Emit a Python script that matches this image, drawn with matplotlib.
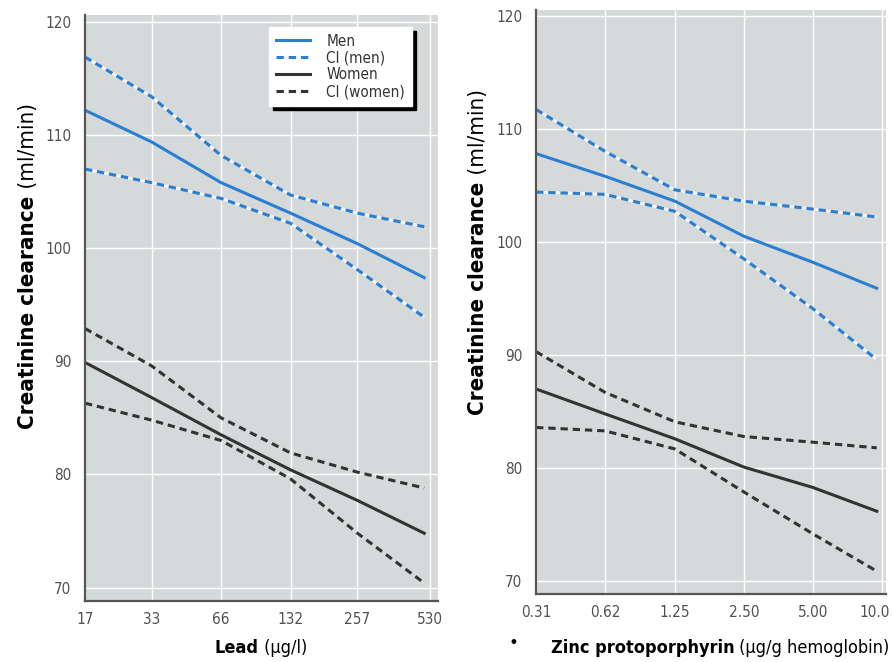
import matplotlib
matplotlib.use("Agg")
import matplotlib.pyplot as plt
import matplotlib.transforms as mtrans
from matplotlib import font_manager as fm

# creatinine clearance vs lead / zinc protoporphyrin, men and women with CI

lead = [17, 33, 66, 132, 257, 500]
lead_ticks = [17, 33, 66, 132, 257, 530]
lead_men = [112.2, 109.4, 105.8, 103.1, 100.4, 97.4]
lead_men_hi = [116.9, 113.4, 108.2, 104.7, 103.1, 101.9]
lead_men_lo = [107.0, 105.8, 104.4, 102.2, 98.1, 93.9]
lead_women = [89.9, 86.8, 83.5, 80.4, 77.7, 74.8]
lead_women_hi = [92.9, 89.6, 85.0, 81.9, 80.2, 78.8]
lead_women_lo = [86.3, 84.8, 83.0, 79.6, 74.8, 70.4]

zpp = [0.31, 0.62, 1.25, 2.50, 5.00, 9.5]
zpp_ticks = [0.31, 0.62, 1.25, 2.50, 5.00, 10.0]
zpp_ticklabels = ["0.31", "0.62", "1.25", "2.50", "5.00", "10.0"]
zpp_men = [107.8, 105.8, 103.6, 100.5, 98.2, 95.9]
zpp_men_hi = [111.7, 108.0, 104.6, 103.6, 102.9, 102.2]
zpp_men_lo = [104.4, 104.2, 102.7, 98.5, 94.1, 89.6]
zpp_women = [87.0, 84.8, 82.6, 80.1, 78.3, 76.2]
zpp_women_hi = [90.3, 86.7, 84.1, 82.8, 82.3, 81.8]
zpp_women_lo = [83.6, 83.3, 81.7, 77.9, 74.2, 70.9]

yticks = [70, 80, 90, 100, 110, 120]

BLUE = "#2b7fd2"
DARK = "#333333"
BG = "#d5d9d9"


def find_font(bold):
    # look for a narrow / condensed face, fall back to DejaVu Sans
    prefs = [("Liberation Sans Narrow", None), ("DejaVu Sans", "condensed")]
    for name, stretch in prefs:
        for f in fm.fontManager.ttflist:
            if f.name != name or f.style != "normal":
                continue
            if stretch is not None and f.stretch != stretch:
                continue
            w = f.weight if isinstance(f.weight, int) else fm.weight_dict.get(f.weight, 400)
            if (w >= 600) == bold:
                return f.fname, True
    return None, False


reg_file, narrow = find_font(False)
bold_file, _ = find_font(True)
scale = 1.0 if narrow else 0.82


def fp(bold=False, size=11):
    f = bold_file if bold else reg_file
    if f:
        return fm.FontProperties(fname=f, size=size * scale)
    return fm.FontProperties(family="DejaVu Sans", weight="bold" if bold else "normal", size=size * scale)


fig = plt.figure(figsize=(8.92, 6.62), dpi=100)
ax1 = fig.add_axes([0.0953, 0.092, 0.396, 0.885])
ax2 = fig.add_axes([0.601, 0.103, 0.392, 0.882])


def style_axes(ax, xlim, ylim, xticks, xlabels):
    ax.set_facecolor(BG)
    ax.set_xscale("log")
    ax.set_xlim(*xlim)
    ax.set_ylim(*ylim)
    ax.set_xticks(xticks)
    ax.set_xticklabels(xlabels)
    ax.minorticks_off()
    ax.set_yticks(yticks)
    ax.grid(True, color="white", lw=1.0)
    ax.set_axisbelow(True)
    for s in ["top", "right"]:
        ax.spines[s].set_visible(False)
    for s in ["left", "bottom"]:
        ax.spines[s].set_color("#555555")
        ax.spines[s].set_linewidth(1.6)
    ax.tick_params(length=0, labelcolor="#505050")
    ax.tick_params(axis="y", pad=10)
    ax.tick_params(axis="x", pad=8)
    for lab in ax.get_xticklabels() + ax.get_yticklabels():
        lab.set_fontproperties(fp(size=11))


def draw(ax, x, men, men_hi, men_lo, women, women_hi, women_lo):
    dash = (2.4, 1.6)
    ax.plot(x, men, color=BLUE, lw=2.2, label="Men")
    ax.plot(x, men_hi, color=BLUE, lw=2.2, dashes=dash, gapcolor="#f2f5f5", label="CI (men)")
    ax.plot(x, men_lo, color=BLUE, lw=2.2, dashes=dash, gapcolor="#f2f5f5")
    ax.plot(x, women, color=DARK, lw=2.2, label="Women")
    ax.plot(x, women_hi, color=DARK, lw=2.2, dashes=dash, label="CI (women)")
    ax.plot(x, women_lo, color=DARK, lw=2.2, dashes=dash)


style_axes(ax1, (17, 575), (68.8, 120.6), lead_ticks, [str(v) for v in lead_ticks])
draw(ax1, lead, lead_men, lead_men_hi, lead_men_lo, lead_women, lead_women_hi, lead_women_lo)

style_axes(ax2, (0.31, 10.4), (68.9, 120.5), zpp_ticks, zpp_ticklabels)
draw(ax2, zpp, zpp_men, zpp_men_hi, zpp_men_lo, zpp_women, zpp_women_hi, zpp_women_lo)

# last label sits against the figure edge, nudge it in a bit
last = ax2.get_xticklabels()[-1]
last.set_transform(last.get_transform() + mtrans.ScaledTranslation(-5 / 72, 0, fig.dpi_scale_trans))

leg = ax1.legend(loc="upper right", bbox_to_anchor=(0.926, 0.98), prop=fp(size=11),
                 frameon=True, fancybox=False, handlelength=2.2, labelspacing=0.12,
                 borderpad=0.45, handletextpad=1.1, borderaxespad=0,
                 shadow={"color": "black", "ox": 3, "oy": -3, "alpha": 1})
leg.get_frame().set_facecolor("white")
leg.get_frame().set_edgecolor("white")
leg.get_frame().set_alpha(1)
for t in leg.get_texts():
    t.set_color("#333333")

# axis titles: bold part + regular part, placed side by side
W, H = fig.bbox.width, fig.bbox.height
renderer = fig.canvas.get_renderer()


def two_part_x(bold_txt, reg_txt, cx, cy, size):
    a = fig.text(0, cy / H, bold_txt, fontproperties=fp(True, size), va="center", ha="left")
    b = fig.text(0, cy / H, " " + reg_txt, fontproperties=fp(False, size), va="center", ha="left")
    wa = a.get_window_extent(renderer).width
    wb = b.get_window_extent(renderer).width
    x0 = cx - (wa + wb) / 2
    a.set_x(x0 / W)
    b.set_x((x0 + wa) / W)


def two_part_y(bold_txt, reg_txt, cx, cy, size):
    a = fig.text(cx / W, 0, bold_txt, fontproperties=fp(True, size), rotation=90, va="bottom", ha="center")
    b = fig.text(cx / W, 0, " " + reg_txt, fontproperties=fp(False, size), rotation=90, va="bottom", ha="center")
    ha_ = a.get_window_extent(renderer).height
    hb = b.get_window_extent(renderer).height
    y0 = cy - (ha_ + hb) / 2
    a.set_y(y0 / H)
    b.set_y((y0 + ha_) / H)


# positions in pixels from the bottom left
two_part_y("Creatinine clearance", "(ml/min)", 28, H - 266, 16)
two_part_y("Creatinine clearance", "(ml/min)", 478, H - 252, 16)
two_part_x("Lead", "(μg/l)", 261, H - 648, 13)
two_part_x("Zinc protoporphyrin", "(μg/g hemoglobin)", 720, H - 648, 13)

fig.text(513 / W, 1 - 643 / H, "•", fontsize=12, color="black", ha="center", va="center")

fig.savefig("out.png", dpi=100, facecolor="white")
